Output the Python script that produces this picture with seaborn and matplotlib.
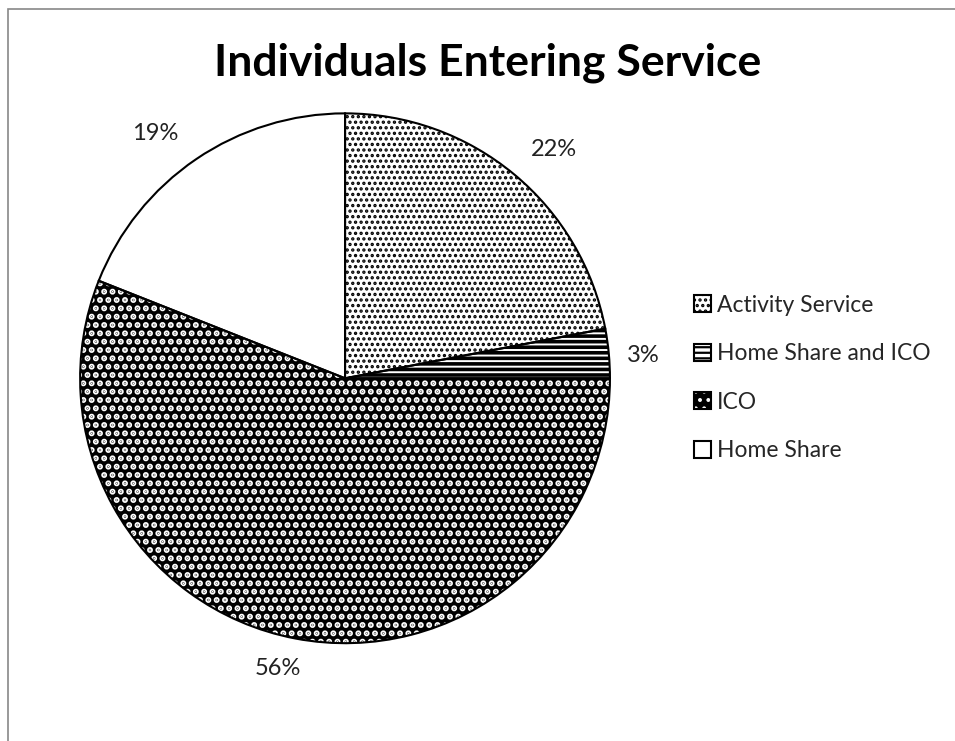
import matplotlib
matplotlib.use("Agg")
import matplotlib.pyplot as plt
import seaborn as sns
import numpy as np
from matplotlib.patches import Rectangle, Patch
from matplotlib.legend_handler import HandlerTuple

categories = ["Activity Service", "Home Share and ICO", "ICO", "Home Share"]
values = [22, 3, 56, 19]
face_colors = ["white", "white", "black", "white"]
hatch_colors = ["black", "black", "white", "black"]
hatches = ["...", "---", "..", ""]
hatch_widths = [1.6, 2.6, 3.0, 1.0]
label_dist = [1.17, 1.13, 1.125, 1.17]
label_angle_shift = [-2.8, -1.0, -2.2, 3.6]

sns.set_theme(style="white")
plt.rcParams["font.family"] = ["Lato", "DejaVu Sans"]
plt.rcParams["hatch.linewidth"] = 1.6

fig = plt.figure(figsize=(9.55, 7.41), dpi=100)
fig.patches.append(Rectangle((8/955, -0.01), 1.0, 1 - 9/741 + 0.01, transform=fig.transFigure,
                             fill=False, edgecolor="#888888", linewidth=1.2))
ax = fig.add_axes([0.0838, 0.132, 0.555, 0.715])

wedges, texts, autotexts = ax.pie(
    values, startangle=90, counterclock=False, radius=1.0,
    colors=face_colors, autopct="%1.0f%%", pctdistance=1.15,
    wedgeprops=dict(linewidth=0), textprops=dict(fontsize=17, color="#222222"))
for w, h, hc, hw in zip(wedges, hatches, hatch_colors, hatch_widths):
    w.set_hatch(h)
    w.set_edgecolor(hc)
    try:
        w.set_hatch_linewidth(hw)
    except Exception:
        pass
for w, t, d, s in zip(wedges, autotexts, label_dist, label_angle_shift):
    ang = np.deg2rad((w.theta1 + w.theta2) / 2 + s)
    t.set_position((d * np.cos(ang), d * np.sin(ang)))
    t.set_ha("center")
    t.set_va("center")
ax.pie(values, startangle=90, counterclock=False, radius=1.0,
       colors=["none"] * 4, wedgeprops=dict(linewidth=1.5, edgecolor="black"))
ax.set_xlim(-1, 1)
ax.set_ylim(-1, 1)
ax.set_aspect("equal")

handles = []
for fc, h, hc, hw in zip(face_colors, hatches, hatch_colors, hatch_widths):
    fill = Patch(facecolor=fc, edgecolor=hc, hatch=h, linewidth=0)
    try:
        fill.set_hatch_linewidth(hw)
    except Exception:
        pass
    outline = Patch(facecolor="none", edgecolor="black", linewidth=1.5)
    handles.append((fill, outline))
leg = fig.legend(handles, categories, loc="upper left", bbox_to_anchor=(0.705, 0.630),
                 frameon=False, fontsize=16.5, handlelength=0.75, handleheight=0.75,
                 handletextpad=0.25, labelspacing=1.2,
                 handler_map={tuple: HandlerTuple(ndivide=1, pad=0)})

fig.text(0.511, 0.915, "Individuals Entering Service", ha="center", va="center",
         fontsize=32, fontweight="bold", color="black")

fig.savefig("out.png", dpi=100, facecolor="white")
